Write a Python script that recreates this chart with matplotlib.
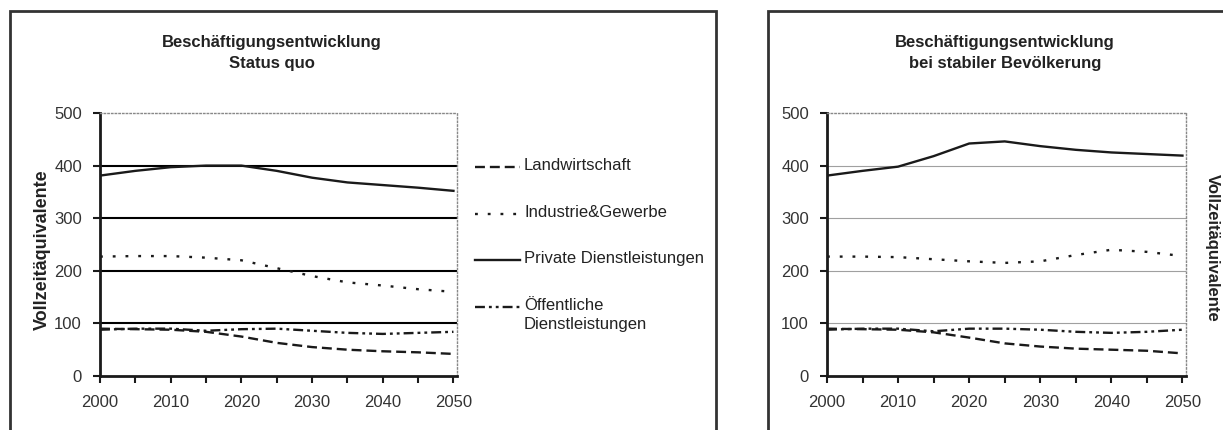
import numpy as np
import matplotlib.pyplot as plt
from matplotlib.patches import Rectangle
from matplotlib.lines import Line2D

plt.rcParams['font.family'] = ['Liberation Sans', 'DejaVu Sans']

years = [2000, 2005, 2010, 2015, 2020, 2025, 2030, 2035, 2040, 2045, 2050]

# Status quo
sq_land = [90, 89, 88, 84, 75, 63, 55, 50, 47, 45, 42]
sq_ind = [227, 228, 228, 225, 220, 205, 190, 178, 172, 165, 160]
sq_priv = [381, 390, 397, 400, 400, 390, 377, 368, 363, 358, 352]
sq_oeff = [88, 90, 90, 86, 89, 90, 86, 82, 80, 82, 84]

# bei stabiler Bevoelkerung
st_land = [90, 89, 88, 83, 73, 62, 56, 52, 50, 48, 43]
st_ind = [227, 227, 226, 222, 218, 215, 218, 230, 240, 236, 228]
st_priv = [381, 390, 398, 418, 442, 446, 437, 430, 425, 422, 419]
st_oeff = [88, 90, 90, 85, 90, 90, 88, 84, 82, 84, 88]

labels = ["Landwirtschaft", "Industrie&Gewerbe", "Private Dienstleistungen",
          "Öffentliche\nDienstleistungen"]
titles = ["Beschäftigungsentwicklung\nStatus quo",
          "Beschäftigungsentwicklung\nbei stabiler Bevölkerung"]
ylabel = "Vollzeitäquivalente"

lw = 1.7
lcol = '#1a1a1a'
styles = [dict(dashes=(4.2, 2.1)),
          dict(dashes=(1.2, 4.2)),
          dict(linestyle='-'),
          dict(dashes=(4.2, 1.7, 1.2, 1.7, 1.2, 1.7))]

W, H = 1223, 430
fig = plt.figure(figsize=(W / 100, H / 100), dpi=100)

# panel frames (open at the bottom of the picture)
for x0, x1 in [(10, 716), (768, 1300)]:
    fig.patches.append(Rectangle((x0 / W, -0.1), (x1 - x0) / W, 1.1 - 11 / H,
                                 transform=fig.transFigure, fill=False,
                                 edgecolor='#333333', lw=2, clip_on=False))

axl = fig.add_axes([100 / W, 1 - 376 / H, 357 / W, 263 / H])
axr = fig.add_axes([827 / W, 1 - 376 / H, 359 / W, 263 / H])

panels = [(axl, [sq_land, sq_ind, sq_priv, sq_oeff], 'black', 1.5),
          (axr, [st_land, st_ind, st_priv, st_oeff], '#a0a0a0', 0.8)]

for ax, series, gcol, glw in panels:
    for vals, st in zip(series, styles):
        ax.plot(years, vals, color=lcol, lw=lw, **st)
    ax.set_xlim(2000, 2050.5)
    ax.set_ylim(0, 500)
    ax.set_xticks(range(2000, 2051, 10))
    ax.set_xticks(range(2005, 2050, 10), minor=True)
    ax.set_yticks(range(0, 501, 100))
    for y in [100, 200, 300, 400]:
        ax.axhline(y, color=gcol, lw=glw, zorder=0)
    for s in ['top', 'right']:
        ax.spines[s].set_color('#888888')
        ax.spines[s].set_linestyle(':')
        ax.spines[s].set_linewidth(1)
    for s in ['left', 'bottom']:
        ax.spines[s].set_color(lcol)
        ax.spines[s].set_linewidth(2)
    ax.tick_params(which='both', direction='out', length=5, width=1.5,
                   color=lcol, labelsize=12, labelcolor='#333333')
    ax.tick_params(axis='x', pad=9)
    ax.tick_params(axis='y', pad=8)

fig.text(272 / W, 1 - 53 / H, titles[0], ha='center', va='center',
         fontsize=12, fontweight='bold', color='#222222', linespacing=1.5)
fig.text(1005 / W, 1 - 53 / H, titles[1], ha='center', va='center',
         fontsize=12, fontweight='bold', color='#222222', linespacing=1.5)
fig.text(42 / W, 1 - 250 / H, ylabel, rotation=90, ha='center', va='center',
         fontsize=13, fontweight='bold', color='#222222')
fig.text(1212 / W, 1 - 248 / H, ylabel, rotation=-90, ha='center', va='center',
         fontsize=12, fontweight='bold', color='#222222')

# legend, handle aligned with the first text line
for i, (st, lab) in enumerate(zip(styles, labels)):
    yc = 167 + i * 46.7
    fig.add_artist(Line2D([475 / W, 520 / W], [1 - yc / H, 1 - yc / H],
                          transform=fig.transFigure, color=lcol, lw=lw, **st))
    fig.text(524 / W, 1 - (yc - 9) / H, lab, ha='left', va='top',
             fontsize=12, color='#222222', linespacing=1.3)

fig.savefig("out.png", dpi=100)
